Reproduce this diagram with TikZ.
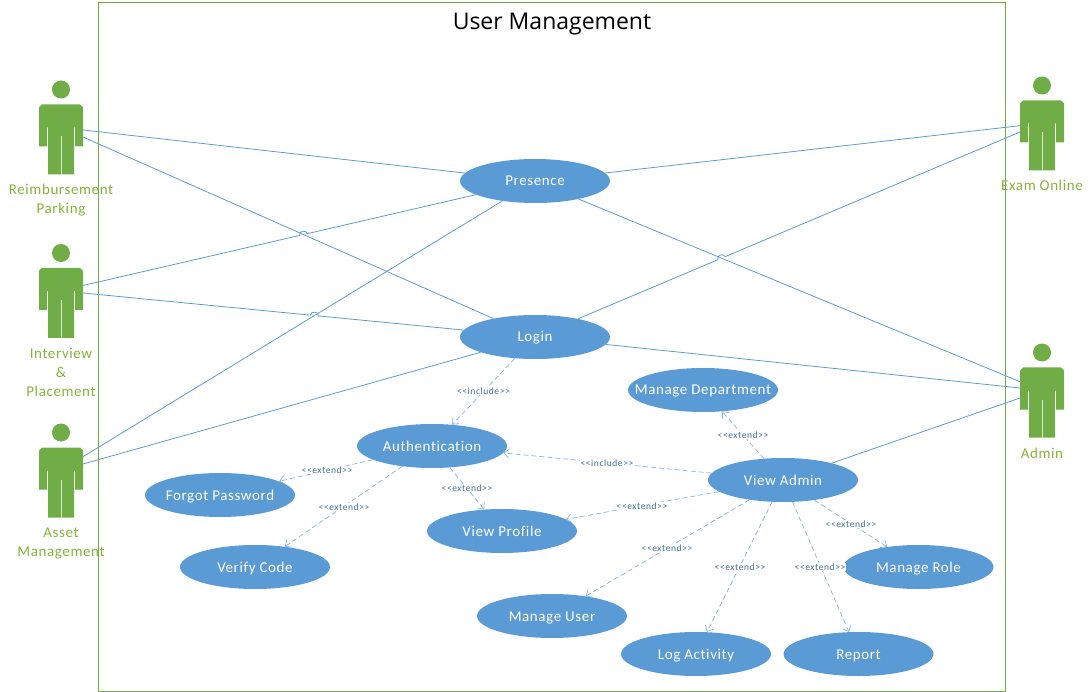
\documentclass[tikz,border=0pt]{standalone}
\usepackage{fontspec}
\setmainfont[LetterSpace=4,Ligatures=NoCommon]{Carlito}
\newfontfamily\tagfont[LetterSpace=6]{Carlito}
\newfontfamily\titlefont{Open Sans}
\usetikzlibrary{shapes.geometric,arrows.meta,calc}
\definecolor{framegreen}{HTML}{70AD47}
\definecolor{labelgreen}{HTML}{85B23C}
\definecolor{caseblue}{HTML}{5B9BD5}
\definecolor{tagblue}{HTML}{3F6E9E}
\tikzset{
  x=1pt,y=-1pt,
  usecase/.style={ellipse,fill=caseblue,text=white,minimum width=150pt,minimum height=44pt,inner sep=0pt,font=\fontsize{15}{16}\selectfont},
  actorname/.style={text=labelgreen,align=center,inner sep=0pt,font=\fontsize{15}{19}\selectfont},
  assoc/.style={draw=caseblue,line width=0.8pt},
  dep/.style={draw=caseblue!75,line width=0.7pt,dash pattern=on 5pt off 3pt,-{Straight Barb[length=5pt,width=9pt]}},
  tag/.style={fill=white,text=tagblue,inner sep=0.5pt,font=\tagfont\fontsize{9.5}{10}\selectfont},
}
% Case caption of zero size on a fixed baseline, so that the ellipse keeps its set size
\newcommand{\uc}[1]{\raisebox{-5pt}[0pt][0pt]{\makebox[0pt][c]{#1}}}
% Stick figure: a head plus a body with thin white slits between arms and legs
\newcommand{\umlactor}[3]{%
  \begin{scope}[shift={(#2,#3)}]
    \fill[framegreen] (0,0) circle (9);
    \fill[framegreen] (-22,18) -- (-19,15) -- (19,15) -- (22,18) -- (22,57) -- (14,57) -- (14,38) -- (13,38)
      -- (13,85) -- (-13,85) -- (-13,38) -- (-14,38) -- (-14,57) -- (-22,57) -- cycle;
    \draw[white!75!framegreen,line width=0.9pt] (0,47) -- (0,85);
    \node[inner sep=0pt,minimum width=44pt,minimum height=95pt,anchor=north] (#1) at (0,-9) {};
  \end{scope}}
% Association line that jumps over the line it crosses
\newcommand{\hopline}[4]{%
  \coordinate (hp) at (intersection of #1--#2 and #3--#4);
  \coordinate (hp1) at ($(hp)!4pt!(#1)$);
  \coordinate (hp2) at ($(hp)!4pt!(#2)$);
  \draw[assoc] (#1) -- (hp1) .. controls ($(hp1)!4.5pt!90:(hp2)$) and ($(hp2)!4.5pt!-90:(hp1)$) .. (hp2) -- (#2);}
\begin{document}
\begin{tikzpicture}
\useasboundingbox (0,0) rectangle (1092,692);
\draw[framegreen,line width=0.9pt] (98,2) rectangle (1005,691);
\node[inner sep=0pt,font=\titlefont\fontsize{23}{26}\selectfont] (title) at (552,24.5) {User Management};

\umlactor{a1}{61}{89.5}
\umlactor{a2}{61}{253}
\umlactor{a3}{61}{432.5}
\umlactor{a4}{1042}{85.5}
\umlactor{a5}{1042}{352.5}
\node[actorname] (n1) at (61,200) {Reimbursement\\Parking};
\node[actorname] (n2) at (61,372.5) {Interview\\\&\\Placement};
\node[actorname] (n3) at (61,543.5) {Asset\\Management};
\node[actorname] (n4) at (1042,185.5) {Exam Online};
\node[actorname] (n5) at (1042,453.5) {Admin};

\node[usecase] (pres) at (535,181) {\uc{Presence}};
\node[usecase] (login) at (535,337) {\uc{Login}};
\node[usecase] (auth) at (432,446) {\uc{Authentication}};
\node[usecase] (forgot) at (220,495) {\uc{Forgot Password}};
\node[usecase] (verify) at (255,567) {\uc{Verify Code}};
\node[usecase] (profile) at (502,531) {\uc{View Profile}};
\node[usecase] (dept) at (703,390) {\uc{Manage Department}};
\node[usecase] (vadmin) at (783,480) {\uc{View Admin}};
\node[usecase] (role) at (918.5,567) {\uc{Manage Role}};
\node[usecase] (muser) at (552,616) {\uc{Manage User}};
\node[usecase] (logact) at (696,654) {\uc{Log Activity}};
\node[usecase] (report) at (858.5,654) {\uc{Report}};

% Free ends of the associations on the actors' arms
\coordinate (a1p) at (83,130);
\coordinate (a1l) at (83,137);
\coordinate (a2p) at (83,285.5);
\coordinate (a2l) at (83,293);
\coordinate (a3p) at (83,456.7);
\coordinate (a3l) at (83,464);
\coordinate (a4p) at (1020,125.7);
\coordinate (a4l) at (1020,132);
\coordinate (a5p) at (1020,381.7);
\coordinate (a5l) at (1020,388);
\coordinate (a5v) at (1020,398);

\draw[assoc] (a1p) -- (pres);
\draw[assoc] (a1l) -- (login);
\hopline{a2p}{pres}{a1l}{login}
\hopline{a2l}{login}{a3p}{pres}
\draw[assoc] (a3p) -- (pres);
\draw[assoc] (a3l) -- (login);
\draw[assoc] (a4p) -- (pres);
\hopline{login}{a4l}{a5p}{pres}
\draw[assoc] (a5p) -- (pres);
\draw[assoc] (a5l) -- (login);
\draw[assoc] (a5v) -- (vadmin);

\draw[dep] (login) -- (auth);
\draw[dep] (auth) -- (forgot);
\draw[dep] (auth) -- (verify);
\draw[dep] (auth) -- (profile);
\draw[dep] (vadmin) -- (auth);
\draw[dep] (vadmin) -- (profile);
\draw[dep] (vadmin) -- (dept);
\draw[dep] (vadmin) -- (muser);
\draw[dep] (vadmin) -- (logact);
\draw[dep] (vadmin) -- (report);
\draw[dep] (vadmin) -- (role);

\node[tag] (t1) at (483.5,391.5) {<{}<include>{}>};
\node[tag] (t2) at (327,470.5) {<{}<extend>{}>};
\node[tag] (t3) at (344,507) {<{}<extend>{}>};
\node[tag] (t4) at (467,488.5) {<{}<extend>{}>};
\node[tag] (t5) at (607,463) {<{}<include>{}>};
\node[tag] (t6) at (642,506) {<{}<extend>{}>};
\node[tag] (t7) at (743,435) {<{}<extend>{}>};
\node[tag] (t8) at (667,548) {<{}<extend>{}>};
\node[tag] (t9) at (740,567) {<{}<extend>{}>};
\node[tag] (t10) at (820,567) {<{}<extend>{}>};
\node[tag] (t11) at (851,524) {<{}<extend>{}>};
\end{tikzpicture}
\end{document}
